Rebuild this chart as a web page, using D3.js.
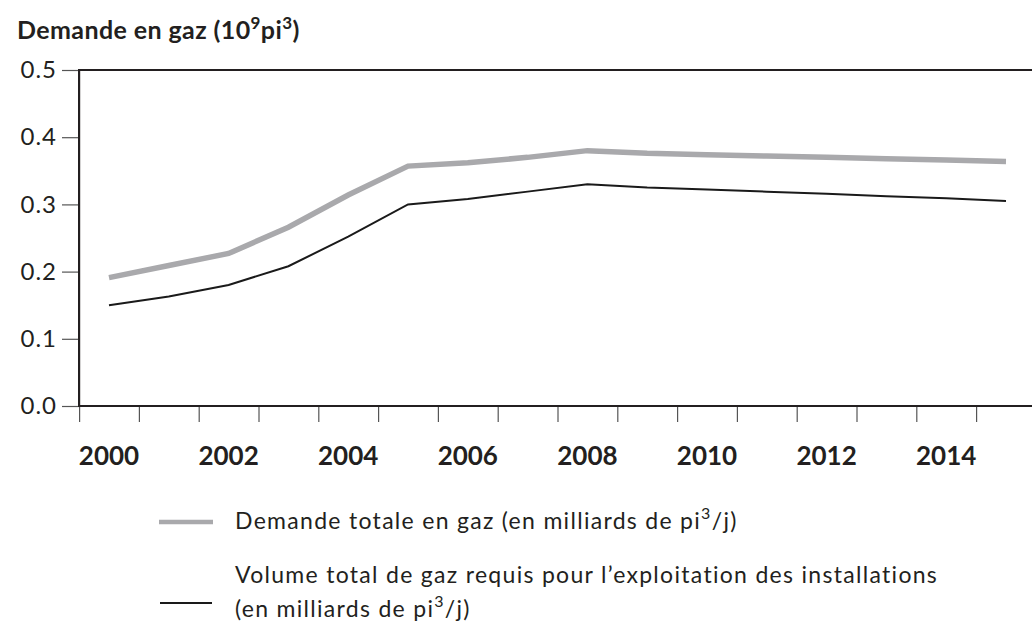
<!DOCTYPE html>
<html>
<head>
<meta charset="utf-8">
<script src="https://cdn.jsdelivr.net/npm/d3@7"></script>
<style>
  body { margin: 0; background: #fff; }
  svg { display: block; font-family: Lato, "Open Sans", sans-serif; }
</style>
</head>
<body>
<div id="chart"></div>
<script>
// values
const years = [2000, 2001, 2002, 2003, 2004, 2005, 2006, 2007, 2008, 2009, 2010, 2011, 2012, 2013, 2014, 2015];
const demandeTotale = [0.191, 0.209, 0.227, 0.266, 0.314, 0.357, 0.362, 0.370, 0.380, 0.376, 0.374, 0.372, 0.370, 0.368, 0.366, 0.364];
const volumeRequis = [0.150, 0.163, 0.180, 0.208, 0.252, 0.300, 0.308, 0.319, 0.330, 0.325, 0.322, 0.319, 0.316, 0.312, 0.309, 0.305];
const yTicks = [0, 0.1, 0.2, 0.3, 0.4, 0.5];
const yearLabels = [2000, 2002, 2004, 2006, 2008, 2010, 2012, 2014];

const width = 1032, height = 639;
const ink = "#231f20";

const svg = d3.select("#chart").append("svg")
    .attr("width", width)
    .attr("height", height);

// year y sits in the middle of a slot, ticks mark slot edges
const x = d3.scaleLinear().domain([2000, 2015]).range([109, 1006]);
const y = d3.scaleLinear().domain([0, 0.5]).range([406, 70]);

// title
const title = svg.append("text")
    .attr("x", 17).attr("y", 39)
    .attr("fill", ink)
    .style("font-size", "25px").style("font-weight", "bold")
    .style("letter-spacing", "0.4px");
title.append("tspan").text("Demande en gaz (10");
title.append("tspan").attr("dy", -10).style("font-size", "17px").text("9");
title.append("tspan").attr("dy", 10).text("pi");
title.append("tspan").attr("dy", -10).style("font-size", "17px").text("3");
title.append("tspan").attr("dy", 10).text(")");

// y axis
const yAxis = svg.append("g")
    .attr("transform", `translate(${x.range()[0] - 30},0)`)
    .call(d3.axisLeft(y).tickValues(yTicks).tickFormat(d3.format(".1f")).tickSize(17).tickPadding(5));
yAxis.select(".domain").remove();
yAxis.selectAll(".tick line").attr("stroke", "#555").attr("stroke-width", 1.2);
yAxis.selectAll(".tick text")
    .attr("fill", ink)
    .style("font-size", "24px")
    .style("letter-spacing", "1px")
    .style("font-family", "Lato, sans-serif");

// x axis: ticks at slot edges
const edges = d3.range(years[0] - 0.5, years[years.length - 1], 1);
const xAxis = svg.append("g")
    .attr("transform", `translate(0,${y(0)})`)
    .call(d3.axisBottom(x).tickValues(edges).tickFormat("").tickSize(16));
xAxis.select(".domain").remove();
xAxis.selectAll(".tick line").attr("stroke", "#555").attr("stroke-width", 1.2);

svg.append("g").selectAll("text")
    .data(yearLabels)
    .join("text")
    .attr("x", d => x(d))
    .attr("y", 465)
    .attr("text-anchor", "middle")
    .attr("fill", ink)
    .style("font-size", "26px")
    .style("font-weight", "bold")
    .text(d => d);

// frame: left, top, bottom
const x0 = x(years[0] - 0.5);
svg.append("path")
    .attr("d", `M${width},${y(0.5)}H${x0}V${y(0)}H${width}`)
    .attr("fill", "none")
    .attr("stroke", ink)
    .attr("stroke-width", 2.2);

// series
const line = d3.line().x((d, i) => x(years[i])).y(d => y(d));

svg.append("path")
    .datum(demandeTotale)
    .attr("d", line)
    .attr("fill", "none")
    .attr("stroke", "#a9a9ac")
    .attr("stroke-width", 5.5);

svg.append("path")
    .datum(volumeRequis)
    .attr("d", line)
    .attr("fill", "none")
    .attr("stroke", "#1a1a1a")
    .attr("stroke-width", 2);

// legend
const legend = svg.append("g");
legend.append("line")
    .attr("x1", 159).attr("x2", 213).attr("y1", 522).attr("y2", 522)
    .attr("stroke", "#a9a9ac").attr("stroke-width", 4.5);
legend.append("line")
    .attr("x1", 160).attr("x2", 212).attr("y1", 603).attr("y2", 603)
    .attr("stroke", "#1a1a1a").attr("stroke-width", 2);

function addSup(t, before, after) {
    t.append("tspan").text(before);
    t.append("tspan").attr("dy", -10).style("font-size", "16px").text("3");
    t.append("tspan").attr("dy", 10).text(after);
}

const legendFont = t => t.attr("fill", ink)
    .style("font-size", "23px")
    .style("letter-spacing", "1.3px");

const l1 = legend.append("text").attr("x", 235).attr("y", 529).call(legendFont);
addSup(l1, "Demande totale en gaz (en milliards de pi", "/j)");

legend.append("text").attr("x", 235).attr("y", 583).call(legendFont)
    .text("Volume total de gaz requis pour l\u2019exploitation des installations");

const l3 = legend.append("text").attr("x", 235).attr("y", 617).call(legendFont);
addSup(l3, "(en milliards de pi", "/j)");
</script>
</body>
</html>
